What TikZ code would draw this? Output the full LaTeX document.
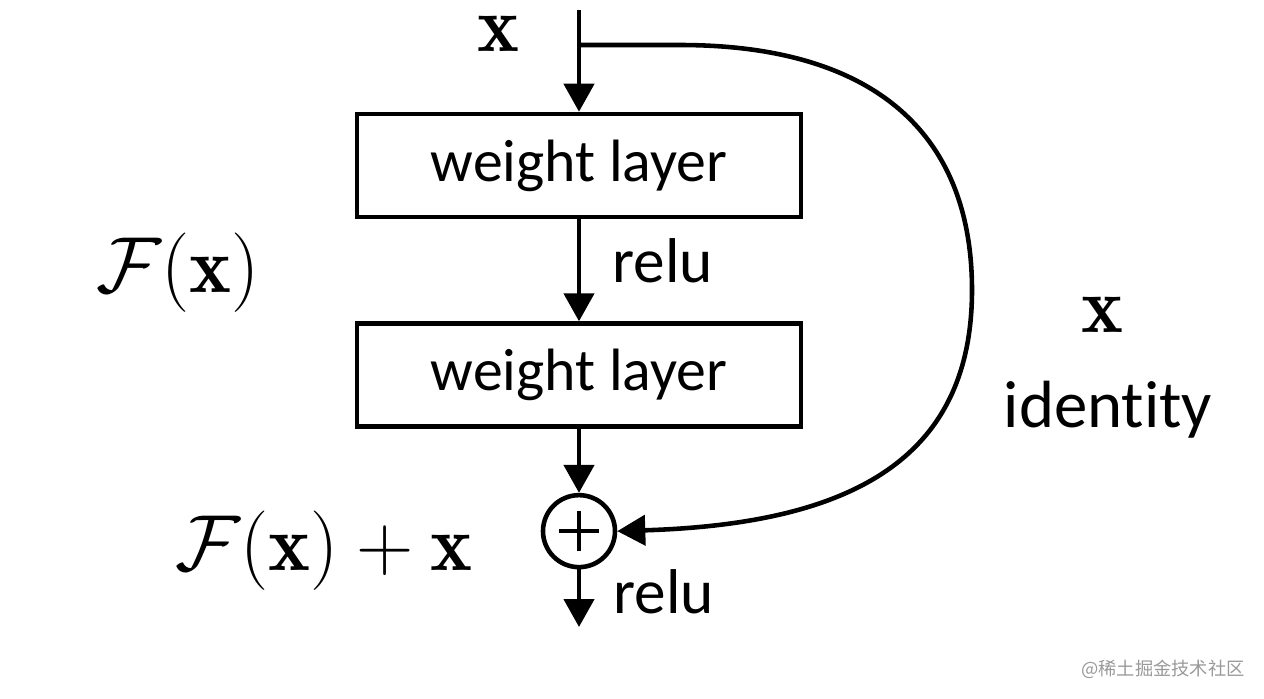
\RequirePackage{fix-cm}
\documentclass[tikz,border=0pt]{standalone}
\usepackage{amsmath,amssymb}
\usepackage{fontspec}
\setsansfont{Carlito}[Ligatures=NoCommon]
\newfontfamily\cjkfont{Noto Sans CJK SC}
\usepackage{xcolor}
\usepackage{tikz}
\usetikzlibrary{positioning,arrows.meta}
\tikzset{
wlayer/.style={
draw,
line width=1.3pt,
minimum width=4.44cm,
minimum height=1.03cm,
inner sep=0pt,
align=center,
font=\sffamily\fontsize{17}{20}\selectfont
},
sumnode/.style={
draw,
circle,
line width=1.3pt,
minimum size=0.72cm,
inner sep=0pt
},
arrow/.style={
-{Triangle[length=2.8mm,width=3mm]},
line width=1.3pt
},
mathlbl/.style={
inner sep=0pt,
font=\fontsize{22.6}{25}\selectfont
},
txtlbl/.style={
inner sep=0pt,
font=\sffamily\fontsize{18}{21}\selectfont
}
}

\begin{document}
\begin{tikzpicture}
\useasboundingbox (0,0) rectangle (12.64,-6.98);
\coordinate(in) at (5.79,-0.10);
\coordinate(br) at (5.79,-0.45);
\node[wlayer](b1) at (5.79,-1.655){weight layer};
\node[wlayer,below=1.02cm of b1](b2){weight layer};
\node[sumnode,below=0.64cm of b2](add){};
\coordinate(out) at (5.79,-6.27);

\foreach \x/\y in {in/b1,b1/b2,b2/add,add/out}
\draw[arrow](\x)--(\y);

% plus sign
\draw[line width=1.3pt](add.center)++(-0.2,0)--++(0.4,0);
\draw[line width=1.3pt](add.center)++(0,-0.2)--++(0,0.4);

% identity shortcut
\draw[arrow](br)--(6.8,-0.45)
.. controls (8.7,-0.45) and (9.72,-1.3) .. (9.72,-2.9)
.. controls (9.72,-4.6) and (8.5,-5.24) .. (add.east);

% labels
\node[mathlbl,anchor=base](xtop) at (4.98,-0.51){$\mathbf{x}$};
\node[mathlbl,anchor=base](fx) at (1.78,-2.92){$\mathcal{F}(\mathbf{x})$};
\node[mathlbl,anchor=base](fxx) at (3.24,-5.70){$\mathcal{F}(\mathbf{x})+\mathbf{x}$};
\node[mathlbl,anchor=base](xid) at (11.02,-3.32){$\mathbf{x}$};
\node[txtlbl,anchor=base west](r1) at (6.12,-2.82){relu};
\node[txtlbl,anchor=base west](r2) at (6.13,-6.13){relu};
\node[txtlbl,anchor=base west,font=\sffamily\fontsize{19}{22}\selectfont](idt) at (10.03,-4.27){identity};
\node[inner sep=0pt,text=black!40,font=\cjkfont\fontsize{5.2}{6}\selectfont](wm) at (11.63,-6.69){@稀土掘金技术社区};
\end{tikzpicture}
\end{document}
